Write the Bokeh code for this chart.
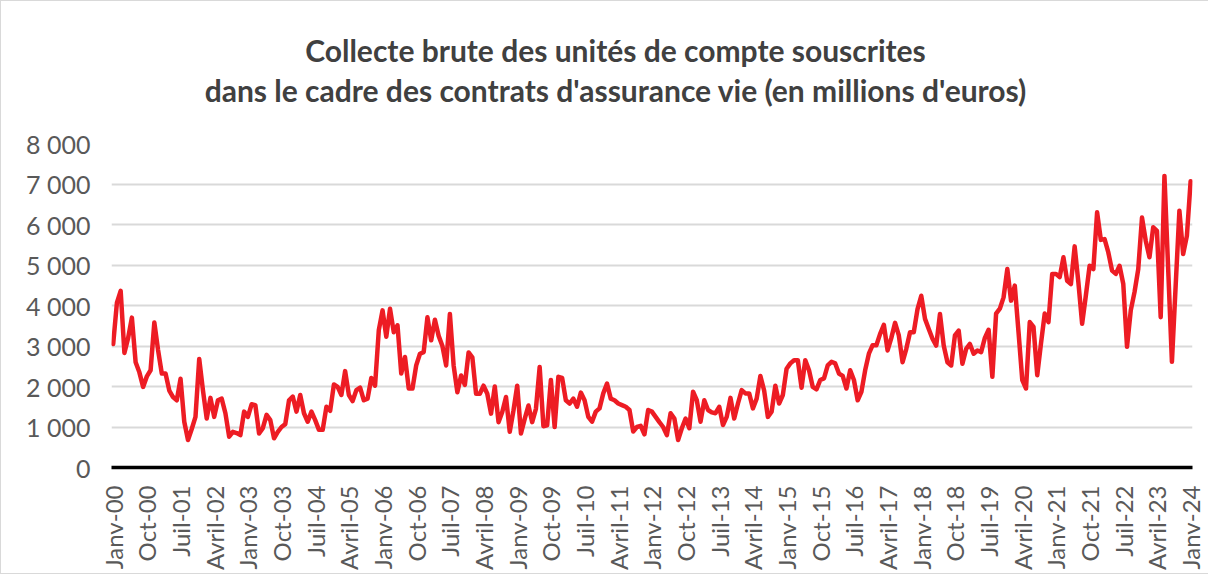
from bokeh.plotting import figure
from bokeh.models import Range1d, FixedTicker, ColumnDataSource, Div
from bokeh.layouts import column
from bokeh.embed import file_html
from bokeh.resources import INLINE
from math import pi

# Monthly gross inflows, Jan 2000 .. Jan 2024 (millions of euros)
collecte = [
    3050, 4070, 4360, 2830, 3200, 3700, 2600, 2350, 1990, 2250, 2400, 3580,
    2900, 2320, 2320, 1900, 1740, 1660, 2190, 1130, 680, 950, 1250, 2680,
    1900, 1210, 1720, 1250, 1660, 1700, 1340, 760, 880, 850, 800, 1380,
    1250, 1560, 1540, 840, 970, 1300, 1170, 720, 880, 1000, 1070, 1660,
    1750, 1380, 1790, 1340, 1130, 1380, 1170, 930, 930, 1500, 1400, 2050,
    1990, 1790, 2380, 1790, 1640, 1910, 1970, 1660, 1700, 2210, 2020, 3390,
    3880, 3230, 3920, 3340, 3510, 2320, 2730, 1950, 1950, 2520, 2810, 2850,
    3710, 3140, 3650, 3250, 3000, 2520, 3790, 2520, 1860, 2270, 2040, 2840,
    2720, 1820, 1820, 2020, 1820, 1330, 2000, 1120, 1370, 1740, 880, 1410,
    2020, 840, 1200, 1530, 1120, 1450, 2480, 1020, 1040, 2160, 1000, 2240,
    2210, 1660, 1580, 1700, 1500, 1850, 1660, 1250, 1130, 1380, 1460, 1830,
    2070, 1700, 1660, 1580, 1540, 1500, 1420, 890, 1000, 1030, 820, 1420,
    1380, 1250, 1120, 1000, 800, 1340, 1210, 680, 970, 1210, 970, 1870,
    1660, 1130, 1660, 1420, 1360, 1340, 1500, 1050, 1250, 1720, 1210, 1580,
    1910, 1830, 1830, 1460, 1700, 2260, 1900, 1250, 1380, 2020, 1580, 1790,
    2440, 2570, 2650, 2650, 1970, 2650, 2400, 1990, 1930, 2160, 2200, 2520,
    2610, 2570, 2320, 2260, 1950, 2400, 2160, 1660, 1870, 2400, 2810, 3020,
    3020, 3300, 3520, 2890, 3200, 3570, 3260, 2600, 2930, 3340, 3340, 3910,
    4240, 3670, 3420, 3180, 3010, 3790, 3010, 2600, 2520, 3260, 3380, 2560,
    2930, 3050, 2810, 2890, 2850, 3200, 3400, 2240, 3800, 3920, 4200, 4900,
    4120, 4490, 3340, 2160, 1950, 3590, 3470, 2280, 3060, 3800, 3590, 4780,
    4780, 4700, 5190, 4610, 4530, 5460, 4570, 3550, 4250, 4980, 4900, 6300,
    5620, 5640, 5310, 4860, 4780, 4980, 4530, 2980, 3880, 4330, 4900, 6170,
    5600, 5190, 5930, 5840, 3710, 7200, 4900, 2610, 4490, 6340, 5270, 5720,
    7070,
]

mois_fr = ["Janv", "Févr", "Mars", "Avril", "Mai", "Juin",
           "Juil", "Août", "Sept", "Oct", "Nov", "Déc"]
start_year = 2000
tick_step = 9

y_ticks = [0, 1000, 2000, 3000, 4000, 5000, 6000, 7000, 8000]
y_labels = ["0", "1 000", "2 000", "3 000", "4 000", "5 000", "6 000", "7 000", "8 000"]

titre_1 = "Collecte brute des unités de compte souscrites"
titre_2 = "dans le cadre des contrats d'assurance vie (en millions d'euros)"

n = len(collecte)
idx = list(range(n))
x_labels = [f"{mois_fr[i % 12]}-{(start_year + i // 12) % 100:02d}" for i in idx]
x_ticks = list(range(0, n, tick_step))

src = ColumnDataSource(dict(x=idx, y=collecte))

FONT = "Lato"
TXT = "#595959"
W = 1203

titre = Div(
    text=f"{titre_1}<br>{titre_2}",
    width=W, height=100,
    styles={"text-align": "center", "font-family": FONT, "font-weight": "bold",
            "font-size": "30px", "color": "#404040", "line-height": "40px",
            "padding-top": "24px", "padding-left": "16px",
            "box-sizing": "border-box", "width": f"{W}px",
            "background-color": "white"},
)

p = figure(width=W, height=462, output_backend="svg", toolbar_location=None,
           x_range=Range1d(-0.45, 288.5), y_range=Range1d(0, 8000),
           min_border_left=110, min_border_right=12, min_border_top=32,
           min_border_bottom=102)
p.title = None
p.outline_line_color = None
p.border_fill_color = "white"
p.background_fill_color = "white"

p.line("x", "y", source=src, line_color="#ED1C24", line_width=4.5,
       line_join="round", line_cap="round")

# y axis
p.yaxis.ticker = FixedTicker(ticks=y_ticks)
p.yaxis.major_label_overrides = {t: l for t, l in zip(y_ticks, y_labels)}
p.yaxis.axis_line_color = None
p.yaxis.major_tick_line_color = None
p.yaxis.minor_tick_line_color = None
p.yaxis.major_label_text_font = FONT
p.yaxis.major_label_text_font_size = "25px"
p.yaxis.major_label_text_color = TXT
p.yaxis.major_label_standoff = 15

# x axis
p.xaxis.ticker = FixedTicker(ticks=x_ticks)
p.xaxis.major_label_overrides = {t: x_labels[t] for t in x_ticks}
p.xaxis.major_label_orientation = pi / 2
p.xaxis.axis_line_color = "black"
p.xaxis.axis_line_width = 3.5
p.xaxis.major_tick_line_color = None
p.xaxis.minor_tick_line_color = None
p.xaxis.major_label_text_font = FONT
p.xaxis.major_label_text_font_size = "24px"
p.xaxis.major_label_text_color = TXT
p.xaxis.major_label_standoff = 12

p.xgrid.grid_line_color = None
p.ygrid.grid_line_color = "#D9D9D9"
p.ygrid.grid_line_width = 2

layout = column(titre, p, spacing=0,
                styles={"border": "1px solid #D9D9D9", "background-color": "white"})
open("out.html", "w").write(file_html(layout, INLINE))
